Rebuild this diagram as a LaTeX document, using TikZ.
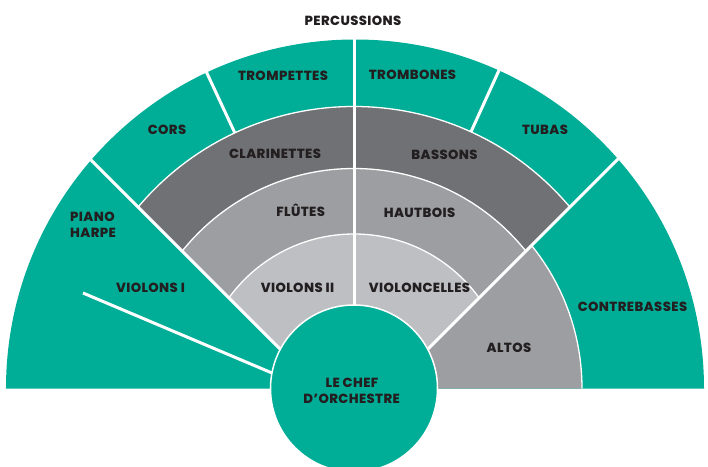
\documentclass[tikz,border=0pt]{standalone}
\usepackage{fontspec}
\newfontfamily\lab{Poppins}[BoldFont={Poppins ExtraBold}, LetterSpace=3]
\definecolor{teal0}{RGB}{0,174,151}
\definecolor{dgray}{RGB}{112,113,117}
\definecolor{mgray}{RGB}{157,158,162}
\definecolor{lgray}{RGB}{190,191,195}
\definecolor{ink}{RGB}{35,31,32}
\tikzset{
  lbl/.style={font=\lab\bfseries\fontsize{13.2}{13.2}\selectfont, text=ink, inner sep=0pt, anchor=base},
  sepline/.style={draw=white, line width=3pt},
  thinsep/.style={draw=white, line width=1.3pt},
}
\begin{document}
\begin{tikzpicture}[x=1pt,y=1pt]
\useasboundingbox (-354,-77.5) rectangle (354,388.5);
\clip (-354,-77.5) rectangle (354,388.5);
% outer teal half disc
\fill[teal0] (1,0) ++(-349,0) arc (180:0:349) -- cycle;
% inner rings, between the two slanted lines
\begin{scope}
  \clip (0,-34.5) -- (-420,385.5) -- (420,385.5) -- cycle;
  \fill[dgray] (0,0) circle (282);
  \fill[mgray] (0,0) circle (220);
  \fill[lgray] (0,0) circle (154.5);
  \draw[thinsep] (0,0) circle (282);
  \draw[thinsep] (0,0) circle (220);
  \draw[thinsep] (0,0) circle (154.5);
\end{scope}
% altos
\begin{scope}
  \clip (34.5,0) -- (420,385.5) -- (420,0) -- cycle;
  \fill[mgray] (0,0) circle (228);
  \draw[thinsep] (0,0) circle (228);
\end{scope}
% separators
\draw[sepline] (0,0) -- (0,360);
\draw[sepline] (115:282) -- (115:360);
\draw[sepline] (65.5:282) -- (65.5:360);
\draw[sepline] (0,-34.5) -- (-330,295.5);
\draw[sepline] (0,-34.5) -- (330,295.5);
\draw[sepline] (-271,95.5) -- (-60,6.2);
% conductor
\node[circle, fill=teal0, draw=white, line width=1.5pt, minimum size=167pt, inner sep=0pt] (chef) at (0,0) {};
% labels
\node[lbl] (perc) at (-1,362.8) {PERCUSSIONS};
\node[lbl] (tromp) at (-71,307.8) {TROMPETTES};
\node[lbl] (tromb) at (58.5,309.2) {TROMBONES};
\node[lbl] (cors) at (-187,253.5) {CORS};
\node[lbl] (tubas) at (191,253.5) {TUBAS};
\node[lbl] (clar) at (-79,230.2) {CLARINETTES};
\node[lbl] (bass) at (90.5,229.2) {BASSONS};
\node[lbl] (flut) at (-53.3,171.8) {FLÛTES};
\node[lbl] (haut) at (65.5,171.2) {HAUTBOIS};
\node[lbl, anchor=base west] (piano) at (-284,167.5) {PIANO};
\node[lbl, anchor=base west] (harpe) at (-284,150.8) {HARPE};
\node[lbl] (v1) at (-203.5,96.2) {VIOLONS I};
\node[lbl] (v2) at (-56.5,96.2) {VIOLONS II};
\node[lbl] (vc) at (65.5,96.2) {VIOLONCELLES};
\node[lbl] (altos) at (155,35.8) {ALTOS};
\node[lbl] (cb) at (278.5,76.8) {CONTREBASSES};
\node[lbl] (chef1) at (-2,1.5) {LE CHEF};
\node[lbl] (chef2) at (-2.3,-14.8) {D’ORCHESTRE};
\end{tikzpicture}
\end{document}
